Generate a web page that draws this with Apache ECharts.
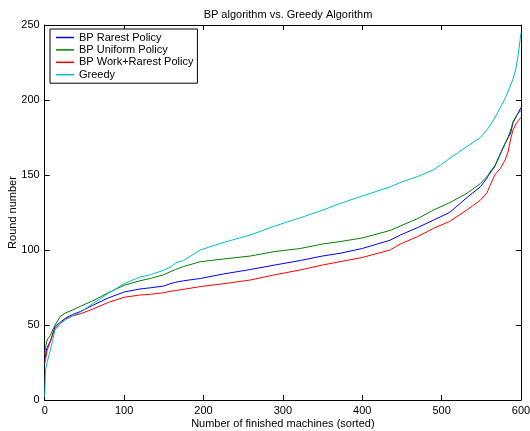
<!DOCTYPE html>
<html><head><meta charset="utf-8">
<script src="https://cdn.jsdelivr.net/npm/echarts@6/dist/echarts.min.js"></script>
<style>html,body{margin:0;padding:0;background:#fff}#c{width:530px;height:431px}</style>
</head><body><div id="c"></div>
<script>
const xs       = [0, 1, 3, 7, 13, 20, 26, 35, 45, 60, 80, 100, 120, 133, 150, 158, 165, 175, 196, 225, 259, 290, 322, 350, 372, 400, 435, 448, 470, 490, 510, 532, 549, 557, 561, 567, 574, 580, 584, 587, 590, 594, 597, 600];
const rarest   = [27, 30, 35, 39, 49, 52, 54.5, 57, 59, 63, 68, 72, 74, 74.8, 76, 77.5, 78.5, 79.5, 81, 84, 87, 90, 93, 96, 97.8, 101, 106.5, 110, 115, 120, 125, 135, 142.2, 147.8, 152, 156, 164, 171, 175, 178, 185, 189, 192, 195];
const uniform  = [30, 35, 40, 43, 50, 56, 58, 60, 62.5, 66, 71.5, 76.5, 79.5, 81, 83.5, 85.5, 87, 89, 92.2, 94, 96, 99, 101, 104, 105.6, 108, 113, 116, 121, 126.7, 131.5, 137.8, 144.4, 148.9, 151.1, 155.6, 164.4, 171, 175.6, 180, 185.5, 189.5, 191.5, 193];
const workRare = [24, 27, 33, 39, 47.8, 51, 54, 56, 57.5, 60.5, 65, 68.5, 70, 70.5, 71.5, 72.5, 73, 73.8, 75.6, 77.5, 80, 83.5, 86.7, 90, 92.2, 95, 100, 104, 109, 114.5, 119, 126.7, 133.3, 138, 143, 150, 154.4, 160, 166, 174, 180, 184.4, 186.5, 188.5];
const greedy   = [2, 20, 25, 33, 46.7, 51, 53.5, 56, 58.5, 64, 71, 77.5, 82, 83.5, 86.5, 88.5, 91.5, 93, 100, 105, 110, 116, 121.5, 126.5, 131, 136, 142, 145, 149, 153.5, 161, 169, 175, 180, 183, 188, 195, 201, 206, 210, 214, 222, 232, 245];
const seriesNames = ['BP Rarest Policy', 'BP Uniform Policy', 'BP Work+Rarest Policy', 'Greedy'];
const seriesData = [rarest, uniform, workRare, greedy];
const colors = ['#0000ff', '#008000', '#ff0000', '#00bfbf'];
const xTicks = [0, 100, 200, 300, 400, 500, 600];
const yTicks = [0, 50, 100, 150, 200, 250];

const FONT = 'Liberation Sans, Arial, Helvetica, sans-serif';
const chart = echarts.init(document.getElementById('c'));
const axBase = {
  axisLine: { show: true, onZero: false, lineStyle: { color: '#000', width: 1 } },
  axisTick: { show: true, inside: true, length: 5, lineStyle: { color: '#000' } },
  splitLine: { show: false }
};
chart.setOption({
  animation: false,
  backgroundColor: '#fff',
  title: {
    text: 'BP algorithm vs. Greedy Algorithm',
    left: 283, top: 4, textAlign: 'center',
    textStyle: { fontFamily: FONT, fontSize: 11, fontWeight: 'normal', color: '#000' }
  },
  grid: { left: 44.7, right: 9, top: 25, bottom: 31, containLabel: false, outerBoundsMode: 'none' },
  legend: {
    orient: 'vertical', left: 50, top: 29,
    data: seriesNames,
    icon: 'rect', itemWidth: 18, itemHeight: 1.5, itemGap: 1.4,
    padding: [3, 4, 3, 6],
    backgroundColor: '#fff', borderColor: '#000', borderWidth: 1, borderRadius: 0,
    textStyle: { fontFamily: FONT, fontSize: 11, color: '#000', padding: [0, 0, 0, 0] }
  },
  xAxis: [
    Object.assign({}, axBase, {
      type: 'value', min: 0, max: 600, interval: 100,
      name: 'Number of finished machines (sorted)', nameLocation: 'middle', nameGap: 18,
      nameMoveOverlap: false,
      nameTextStyle: { fontFamily: FONT, fontSize: 11, color: '#000' },
      axisLabel: { fontFamily: FONT, fontSize: 11, color: '#000', margin: 5,
        formatter: v => xTicks.includes(v) ? String(v) : '' }
    }),
    Object.assign({}, axBase, {
      type: 'value', min: 0, max: 600, interval: 100, position: 'top',
      axisLabel: { show: false }
    })
  ],
  yAxis: [
    Object.assign({}, axBase, {
      type: 'value', min: 0, max: 250, interval: 50,
      name: 'Round number', nameLocation: 'middle', nameGap: 26,
      nameMoveOverlap: false,
      nameTextStyle: { fontFamily: FONT, fontSize: 11, color: '#000' },
      axisLabel: { fontFamily: FONT, fontSize: 11, color: '#000', margin: 5,
        formatter: v => yTicks.includes(v) ? String(v) : '' }
    }),
    Object.assign({}, axBase, {
      type: 'value', min: 0, max: 250, interval: 50, position: 'right',
      axisLabel: { show: false }
    })
  ],
  series: seriesNames.map((n, i) => ({
    name: n, type: 'line', xAxisIndex: 0, yAxisIndex: 0,
    data: xs.map((x, j) => [x, seriesData[i][j]]),
    showSymbol: false, symbol: 'none',
    lineStyle: { color: colors[i], width: 1 },
    itemStyle: { color: colors[i] },
    emphasis: { disabled: true }
  }))
});
</script></body></html>
